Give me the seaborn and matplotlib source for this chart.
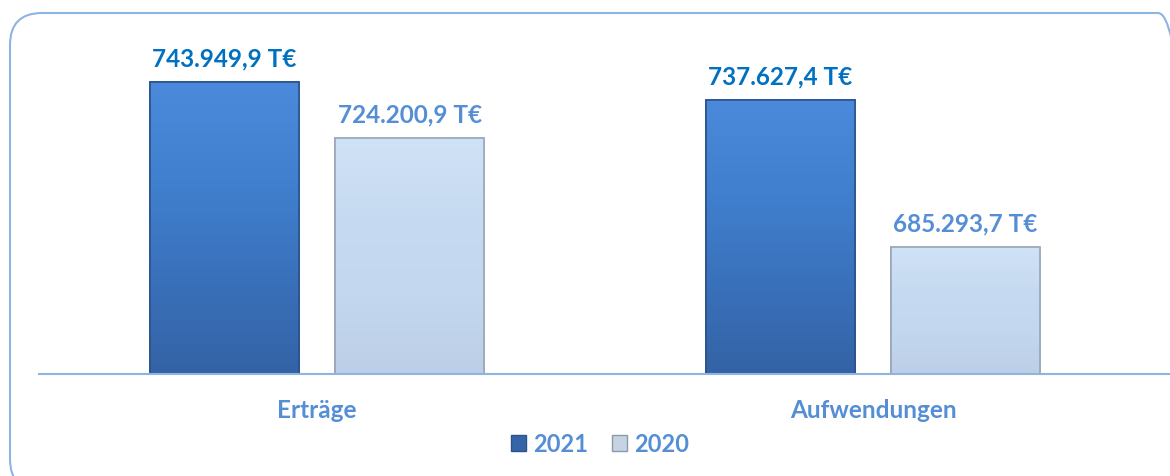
import matplotlib
matplotlib.use("Agg")
import matplotlib.pyplot as plt
import seaborn as sns
import pandas as pd
import numpy as np
from matplotlib.patches import FancyBboxPatch, Rectangle
from matplotlib.colors import LinearSegmentedColormap

categories = ["Erträge", "Aufwendungen"]
years = ["2021", "2020"]
values_2021 = [743949.9, 737627.4]
values_2020 = [724200.9, 685293.7]
labels_2021 = ["743.949,9 T€", "737.627,4 T€"]
labels_2020 = ["724.200,9 T€", "685.293,7 T€"]

df = pd.DataFrame({
    "Kategorie": categories * 2,
    "Jahr": [years[0]] * 2 + [years[1]] * 2,
    "Wert": values_2021 + values_2020,
    "Label": labels_2021 + labels_2020,
})

sns.set_theme(style="white")
plt.rcParams["font.family"] = ["Lato", "DejaVu Sans"]

W, H = 1170, 477
fig = plt.figure(figsize=(W / 100, H / 100), dpi=100)
ax = fig.add_axes([39 / W, 1 - 375 / H, (1170 - 39) / W, 337 / H])

palette = {"2021": "#3f79c6", "2020": "#c6daf1"}
sns.barplot(data=df, x="Kategorie", y="Wert", hue="Jahr", order=categories,
            hue_order=years, palette=palette, width=0.666, gap=0.195,
            ax=ax, legend=False, saturation=1)

YMIN, YMAX = 640000, 760000
XLIM = (-0.5, 1.5 + 19 / 556)

grad = {
    "2021": LinearSegmentedColormap.from_list("g21", ["#4b8ada", "#4080cf", "#3a71bb", "#3363a6"]),
    "2020": LinearSegmentedColormap.from_list("g20", ["#d0e2f6", "#c6daf1", "#c3d7ef", "#bccfe6"]),
}
edges = {"2021": "#2c5287", "2020": "#98a6b6"}
label_col = {"2021": "#0070c0", "2020": "#558ed5"}

for container, yr in zip(ax.containers, years):
    sub = df[df["Jahr"] == yr].set_index("Kategorie").loc[categories]
    for bar, lab in zip(container.patches, sub["Label"]):
        x0, y0 = bar.get_x(), bar.get_y()
        w, h = bar.get_width(), bar.get_height()
        top = y0 + h
        ylow = max(y0, YMIN)
        bar.set_edgecolor(edges[yr])
        bar.set_linewidth(1.2)
        ax.imshow(np.linspace(1, 0, 100).reshape(-1, 1), cmap=grad[yr],
                  extent=[x0, x0 + w, ylow, top], aspect="auto",
                  zorder=bar.get_zorder() + 0.1, origin="lower")
        frame = Rectangle((x0, ylow), w, top - ylow, fill=False, edgecolor=edges[yr],
                          linewidth=1.2, zorder=bar.get_zorder() + 0.2)
        ax.add_patch(frame)
        ax.annotate(lab, (x0 + w / 2, top), xytext=(0, 9),
                    textcoords="offset points", ha="center", va="bottom",
                    fontsize=17.5, fontweight="bold", color=label_col[yr])

ax.set_ylim(YMIN, YMAX)
ax.set_xlim(*XLIM)
ax.set_xlabel("")
ax.set_ylabel("")
ax.set_yticks([])
for s in ["left", "right", "top"]:
    ax.spines[s].set_visible(False)
ax.spines["bottom"].set_color("#8eb4e3")
ax.spines["bottom"].set_linewidth(1.5)
ax.spines["bottom"].set_zorder(5)
ax.tick_params(axis="x", length=0, pad=17)
for t in ax.get_xticklabels():
    t.set_fontsize(17.5)
    t.set_fontweight("bold")
    t.set_color("#558ed5")

handles = [Rectangle((0, 0), 1, 1, facecolor="#3565a8", edgecolor="#2c5287"),
           Rectangle((0, 0), 1, 1, facecolor="#c6d3e3", edgecolor="#8d99a8")]
leg = fig.legend(handles, years, loc="center", bbox_to_anchor=(600 / W, 1 - 445 / H),
                 ncol=2, frameon=False, handlelength=0.65, handleheight=0.65,
                 handletextpad=0.3, columnspacing=1.0,
                 prop={"size": 17, "weight": "bold"})
for t in leg.get_texts():
    t.set_color("#558ed5")

border = FancyBboxPatch((0.10, -0.15), 11.80, 4.78,
                        boxstyle="round,pad=0,rounding_size=0.32",
                        transform=fig.dpi_scale_trans, fill=False,
                        edgecolor="#8eb4e3", linewidth=1.5)
fig.patches.append(border)

fig.savefig("out.png", dpi=100)
